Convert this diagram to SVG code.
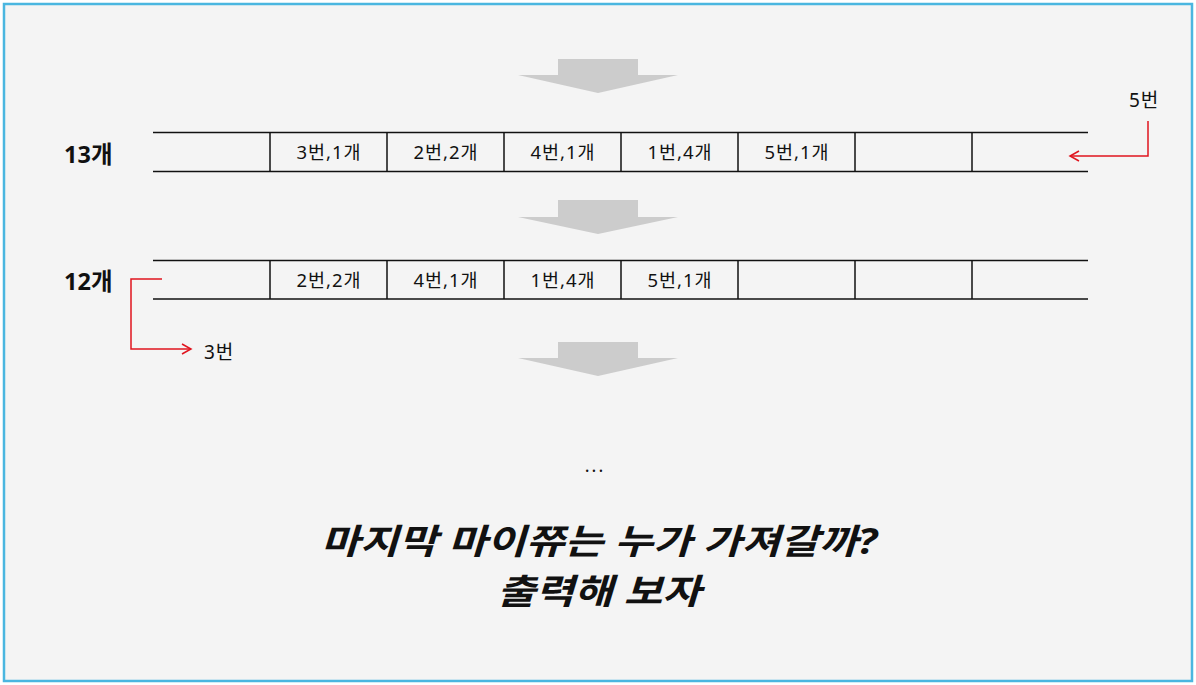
<svg xmlns="http://www.w3.org/2000/svg" width="1196" height="685" viewBox="0 0 1196 685">
<defs>
<style>
.t{font-family:"Noto Sans","Noto Sans CJK KR",sans-serif;fill:#111;}
.cell{font-size:18.5px;text-anchor:middle;letter-spacing:1px;}
.lbl{font-size:23.5px;font-weight:bold;}
.ln{stroke:#111;stroke-width:1.5;fill:none;}
.red{stroke:#e0141e;stroke-width:1.5;fill:none;}
.blk{fill:#cccccc;}
.title{font-size:35px;font-weight:bold;font-style:italic;}
</style>
<marker id="ah" markerWidth="12" markerHeight="12" refX="10" refY="6" orient="auto" markerUnits="userSpaceOnUse">
<path d="M1,1 L10,6 L1,11" fill="none" stroke="#e0141e" stroke-width="1.5"/>
</marker>
</defs>
<rect x="0" y="0" width="1196" height="685" fill="#ffffff"/>
<rect x="4" y="4" width="1188" height="677" fill="#f4f4f4" stroke="#4ab6e0" stroke-width="2.5"/>

<g id="arrow1"><polygon class="blk" points="558,59 638,59 638,75 678,75 598,93 518,75 558,75"/></g>
<g id="arrow2"><polygon class="blk" points="558,200 638,200 638,217 678,217 598,234 518,217 558,217"/></g>
<g id="arrow3"><polygon class="blk" points="558,342 638,342 638,358 678,358 598,376 518,358 558,358"/></g>

<g id="row1">
<text class="t lbl" x="64" y="163">13개</text>
<line class="ln" x1="153" y1="132.5" x2="1088" y2="132.5"/>
<line class="ln" x1="153" y1="171.5" x2="1088" y2="171.5"/>
<path class="ln" d="M270,132.5V171.5M387,132.5V171.5M504,132.5V171.5M621,132.5V171.5M738,132.5V171.5M855,132.5V171.5M972,132.5V171.5"/>
<text class="t cell" x="329" y="159">3번,1개</text>
<text class="t cell" x="446" y="159">2번,2개</text>
<text class="t cell" x="563" y="159">4번,1개</text>
<text class="t cell" x="680" y="159">1번,4개</text>
<text class="t cell" x="797" y="159">5번,1개</text>
</g>

<g id="row2">
<text class="t lbl" x="64" y="290">12개</text>
<line class="ln" x1="153" y1="260.5" x2="1088" y2="260.5"/>
<line class="ln" x1="153" y1="299" x2="1088" y2="299"/>
<path class="ln" d="M270,260.5V299M387,260.5V299M504,260.5V299M621,260.5V299M738,260.5V299M855,260.5V299M972,260.5V299"/>
<text class="t cell" x="329" y="287">2번,2개</text>
<text class="t cell" x="446" y="287">4번,1개</text>
<text class="t cell" x="563" y="287">1번,4개</text>
<text class="t cell" x="680" y="287">5번,1개</text>
</g>

<g id="label5">
<text class="t" x="1129" y="107" font-size="19" letter-spacing="1">5번</text>
</g>
<g id="label3">
<text class="t" x="204" y="359" font-size="19" letter-spacing="1">3번</text>
</g>

<g id="connectors">
<path class="red" d="M1148,121 V156 H1070" marker-end="url(#ah)"/>
<path class="red" d="M162,279 H131 V349 H191" marker-end="url(#ah)"/>
</g>

<text class="t" x="595" y="472" font-size="18" text-anchor="middle" letter-spacing="2">...</text>
<text class="t title" x="321" y="554" textLength="556" lengthAdjust="spacingAndGlyphs">마지막 마이쮸는 누가 가져갈까?</text>
<text class="t title" x="497" y="604" textLength="204" lengthAdjust="spacingAndGlyphs">출력해 보자</text>
</svg>
